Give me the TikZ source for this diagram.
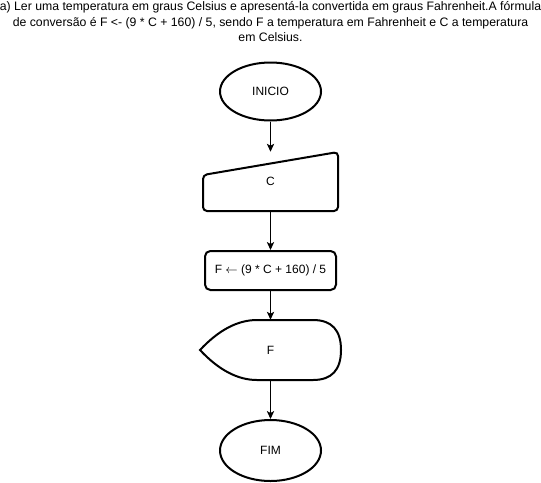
\documentclass[tikz,border=0pt]{standalone}
\usepackage{fontspec}
\setmainfont{Liberation Sans}
\usetikzlibrary{shapes.geometric,arrows.meta}
\begin{document}
\begin{tikzpicture}[x=0.75pt,y=-0.75pt,
  shapeline/.style={line width=1.5pt},
  term/.style={ellipse,draw,shapeline,minimum width=75.75pt,minimum height=43.5pt,inner sep=0pt,font=\fontsize{9}{11}\selectfont},
  procbox/.style={draw,shapeline,rounded corners=4pt,minimum width=98.25pt,minimum height=29.25pt,inner sep=0pt,font=\fontsize{9}{11}\selectfont},
  plain/.style={inner sep=0pt,font=\fontsize{9}{11}\selectfont},
  conn/.style={line width=0.75pt,-{Stealth[length=6pt,width=5.5pt,inset=1.5pt]}}]
\useasboundingbox (0,0) rectangle (541,482);
\begin{scope}
\clip (0,0) rectangle (541,482);
\node[align=center,font=\fontsize{9.2}{11.6}\selectfont,anchor=north,inner sep=0pt] (title) at (270.5,1.5)
 {a) Ler uma temperatura em graus Celsius e apresentá-la convertida em graus Fahrenheit.A fórmula\\
  de conversão é F <- (9 * C + 160) / 5, sendo F a temperatura em Fahrenheit e C a temperatura\\
  em Celsius.};
\end{scope}
% start
\node[term] (ini) at (270.5,91.5) {INICIO};
% manual input
\node[plain,minimum width=101.25pt,minimum height=44.25pt] (inp) at (270.5,181.5) {C};
\draw[shapeline,rounded corners=3pt] (203,175) -- (338,152) -- (338,211) -- (203,211) -- cycle;
% process
\node[procbox] (proc) at (270.5,270.5) {F \(\leftarrow\) (9 * C + 160) / 5};
% display
\node[plain,minimum width=105.75pt,minimum height=45pt] (disp) at (270.5,350) {F};
\draw[shapeline] (257,320) -- (313,320)
  .. controls (331.7,320) and (341,330) .. (341,350)
  .. controls (341,370) and (331.7,380) .. (313,380)
  -- (257,380)
  .. controls (237.7,380) and (218.7,370) .. (200,350)
  .. controls (218.7,330) and (237.7,320) .. (257,320) -- cycle;
% end
\node[term,minimum height=45.75pt] (fim) at (270.5,450.5) {FIM};
% connectors
\draw[conn] (ini.south) -- (inp.north);
\draw[conn] (inp.south) -- (proc.north);
\draw[conn] (proc.south) -- (disp.north);
\draw[conn] (disp.south) -- (fim.north);
\end{tikzpicture}
\end{document}
